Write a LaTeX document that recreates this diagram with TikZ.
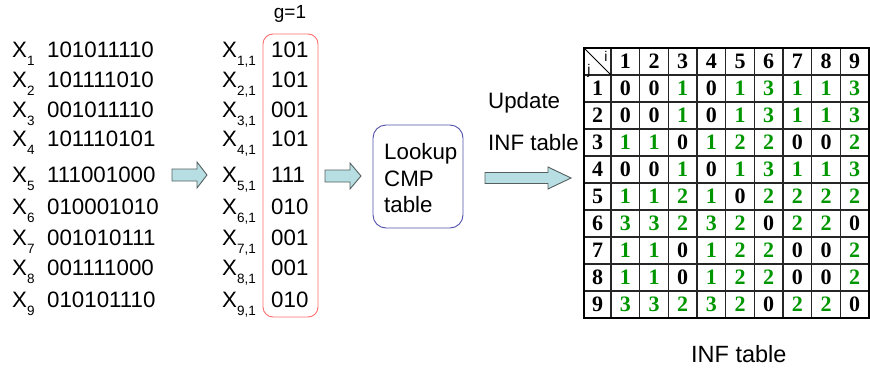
\documentclass[tikz,border=0pt]{standalone}
\usepackage{fontspec}
\setmainfont{Liberation Sans}
\newfontfamily\tabfont{Liberation Serif}
\definecolor{tgreen}{RGB}{0,150,0}
\definecolor{arrfill}{RGB}{183,222,226}
\definecolor{arrline}{RGB}{85,95,95}
\definecolor{boxred}{RGB}{255,110,110}
\definecolor{boxblue}{RGB}{80,80,170}
\newcommand\sbs[1]{\raisebox{-0.34em}{\fontsize{13.5}{14}\selectfont #1}}
\tikzset{
  txt/.style={inner sep=0pt, anchor=base west, font=\fontsize{22.3}{25}\selectfont},
  barrow/.style={draw=arrline, fill=arrfill, line width=0.9pt, line join=miter},
  cell/.style={inner sep=0pt, font=\tabfont\bfseries\fontsize{22}{25}\selectfont},
  cellcol/.code={\ifnum#1=0 \pgfkeysalso{text=black}\else\pgfkeysalso{text=tgreen}\fi},
  grid/.style={line width=1.1pt, draw=black!85},
}
\begin{document}
\begin{tikzpicture}[x=1pt,y=-1pt]
\useasboundingbox (0,0) rectangle (870,372);

% left list
\foreach \i/\s/\v/\y in {1/101011110/101/50, 2/101111010/101/80, 3/001011110/001/110,
  4/101110101/101/139, 5/111001000/111/175, 6/010001010/010/207, 7/001010111/001/238,
  8/001111000/001/268, 9/010101110/010/300}{
  \node[txt] (x\i) at (12,\y+7.8) {X\sbs{\i}};
  \node[txt] (s\i) at (47,\y+7.8) {\s};
  \node[txt] (y\i) at (222,\y+7.8) {X\sbs{\i,1}};
  \node[txt] (v\i) at (271,\y+7.8) {\v};
}
\node[draw=boxred, line width=0.9pt, rounded corners=10pt, minimum width=55pt, minimum height=283pt, inner sep=0pt] (rb) at (290.5,175.5) {};
\node[inner sep=0pt, anchor=base, font=\fontsize{19}{20}\selectfont] (g) at (290,18) {g=1};

% block arrows
\draw[barrow] (172,169) -- (197,169) -- (197,162) -- (207,175) -- (197,188) -- (197,181) -- (172,181) -- cycle;
\draw[barrow] (325,170) -- (350,170) -- (350,163) -- (361,176) -- (350,189) -- (350,182) -- (325,182) -- cycle;
\draw[barrow] (485,172.5) -- (548,172.5) -- (548,167) -- (571,178) -- (548,189) -- (548,183.5) -- (485,183.5) -- cycle;

% lookup box
\node[draw=boxblue, line width=0.9pt, rounded corners=13pt, minimum width=90pt, minimum height=103pt, inner sep=0pt] (lk) at (418,176.5) {};
\node[txt] (l1) at (384,159) {Lookup};
\node[txt] (l2) at (384,186) {CMP};
\node[txt] (l3) at (384,212) {table};

\node[txt] (up) at (488,108) {Update};
\node[txt] (inf) at (488,150) {INF table};

% table grid
\foreach \k in {0,...,9}{
  \draw[grid] (611+\k*28.67,48) -- (611+\k*28.67,318);
}
\foreach \k in {1,...,9}{
  \draw[grid] (584,48+\k*27) -- (869,48+\k*27);
}
\draw[line width=0.9pt] (584,48) -- (611,75);
\node[inner sep=0pt, font=\fontsize{14}{14}\selectfont] (ti) at (606,56) {i};
\node[inner sep=0pt, font=\fontsize{14}{14}\selectfont] (tj) at (589,71) {j};
\draw[line width=2.6pt] (584,48) rectangle (869,318);

\foreach \k in {1,...,9}{
  \node[cell] (h\k) at (611+\k*28.67-14.33,61.5) {\k};
  \node[cell] (r\k) at (597.5,61.5+\k*27) {\k};
}
\foreach \r/\vals in {1/{0,0,1,0,1,3,1,1,3}, 2/{0,0,1,0,1,3,1,1,3}, 3/{1,1,0,1,2,2,0,0,2},
  4/{0,0,1,0,1,3,1,1,3}, 5/{1,1,2,1,0,2,2,2,2}, 6/{3,3,2,3,2,0,2,2,0},
  7/{1,1,0,1,2,2,0,0,2}, 8/{1,1,0,1,2,2,0,0,2}, 9/{3,3,2,3,2,0,2,2,0}}{
  \foreach \v [count=\c] in \vals {
    \node[cell, cellcol=\v] (c\r-\c) at (611+\c*28.67-14.33,61.5+\r*27) {\v};
  }
}
\node[txt, font=\fontsize{23.5}{26}\selectfont] (cap) at (691,362) {INF table};
\end{tikzpicture}
\end{document}
